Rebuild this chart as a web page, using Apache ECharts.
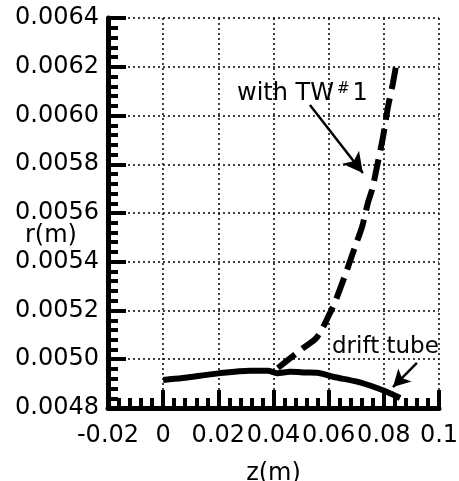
<!DOCTYPE html>
<html>
<head>
<meta charset="utf-8">
<script src="https://cdn.jsdelivr.net/npm/echarts@6/dist/echarts.min.js"></script>
<style>
    html, body { margin: 0; padding: 0; background: #fff; overflow: hidden; }
    #chart { width: 459px; height: 481px; }
</style>
</head>
<body>
<div id="chart"></div>
<script>
// drift tube (solid)
const driftZ = [0, 0.007, 0.02, 0.0315, 0.038, 0.0413, 0.046, 0.0507, 0.0558, 0.0616, 0.0703, 0.0775, 0.0822, 0.0859];
const driftR = [0.004915, 0.004923, 0.004942, 0.004953, 0.004953, 0.004943, 0.004949, 0.004946, 0.004945, 0.004928, 0.004908, 0.004882, 0.004861, 0.004841];
// with TW#1 (dashed)
const twZ = [0.0416, 0.0507, 0.0558, 0.0605, 0.0630, 0.0670, 0.0695, 0.0721, 0.0743, 0.0757, 0.0775, 0.0797, 0.0815, 0.0833, 0.0848];
const twR = [0.004964, 0.005046, 0.005091, 0.00519, 0.005255, 0.005378, 0.00546, 0.005543, 0.005645, 0.005694, 0.005789, 0.005912, 0.006035, 0.006133, 0.006228];
// arrows [from, to] in data units
const twArrow = [[0.0532, 0.006043], [0.0724, 0.005764]];
const driftArrow = [[0.092, 0.004985], [0.0833, 0.004886]];

const FONT = 'DejaVu Sans';
const zip = (xs, ys) => xs.map((x, i) => [x, ys[i]]);

const axisCommon = {
    type: 'value',
    axisLine: { show: true, onZero: false, lineStyle: { color: '#000', width: 5 } },
    axisTick: { show: true, inside: true, length: 18, lineStyle: { color: '#000', width: 4 } },
    minorTick: { show: true, splitNumber: 5, length: 10, lineStyle: { color: '#000', width: 4 } },
    splitLine: { show: true, lineStyle: { color: '#000', type: [2, 3], width: 1.5 } },
    axisLabel: { color: '#000', fontFamily: FONT, fontSize: 24 },
};

const chart = echarts.init(document.getElementById('chart'));
chart.setOption({
    animation: false,
    backgroundColor: '#fff',
    grid: { left: 108, right: 20, top: 18, bottom: 73, containLabel: false, outerBoundsMode: 'none' },
    xAxis: {
        ...axisCommon,
        min: -0.02,
        max: 0.1,
        interval: 0.02,
        name: 'z(m)',
        nameLocation: 'middle',
        nameGap: 54,
        nameTextStyle: { color: '#000', fontFamily: FONT, fontSize: 24 },
        axisLabel: {
            ...axisCommon.axisLabel,
            margin: 16,
            formatter: v => String(parseFloat(v.toFixed(2))),
        },
    },
    yAxis: {
        ...axisCommon,
        min: 0.0048,
        max: 0.0064,
        interval: 0.0002,
        axisLabel: {
            ...axisCommon.axisLabel,
            margin: 9,
            formatter: v => v.toFixed(4),
        },
    },
    graphic: [
        {
            type: 'text', left: 25, top: 224,
            style: { text: 'r(m)', font: `24px "${FONT}"`, fill: '#000' },
        },
        {
            type: 'text', left: 237, top: 82,
            style: {
                text: '{a|with TW}{s|#}{a|1}',
                fill: '#000',
                rich: {
                    a: { fontFamily: FONT, fontSize: 24, fill: '#000' },
                    s: { fontFamily: FONT, fontSize: 15, fill: '#000', verticalAlign: 'top', padding: [0, 3, 8, 3] },
                },
            },
        },
        {
            type: 'text', left: 332, top: 336,
            style: { text: 'drift tube', font: `23px "${FONT}"`, fill: '#000' },
        },
    ],
    series: [
        {
            name: 'drift tube',
            type: 'line',
            data: zip(driftZ, driftR),
            symbol: 'none',
            smooth: 0.3,
            lineStyle: { color: '#000', width: 6 },
            markLine: {
                silent: true,
                symbol: ['none', 'arrow'],
                symbolSize: [14, 17],
                label: { show: false },
                lineStyle: { color: '#000', width: 2.5, type: 'solid' },
                data: [[{ coord: driftArrow[0] }, { coord: driftArrow[1] }]],
            },
        },
        {
            name: 'with TW#1',
            type: 'line',
            data: zip(twZ, twR),
            symbol: 'none',
            smooth: 0.3,
            lineStyle: { color: '#000', width: 6, type: [22, 9] },
            markLine: {
                silent: true,
                symbol: ['none', 'arrow'],
                symbolSize: [16, 20],
                label: { show: false },
                lineStyle: { color: '#000', width: 2.5, type: 'solid' },
                data: [[{ coord: twArrow[0] }, { coord: twArrow[1] }]],
            },
        },
    ],
});
</script>
</body>
</html>
